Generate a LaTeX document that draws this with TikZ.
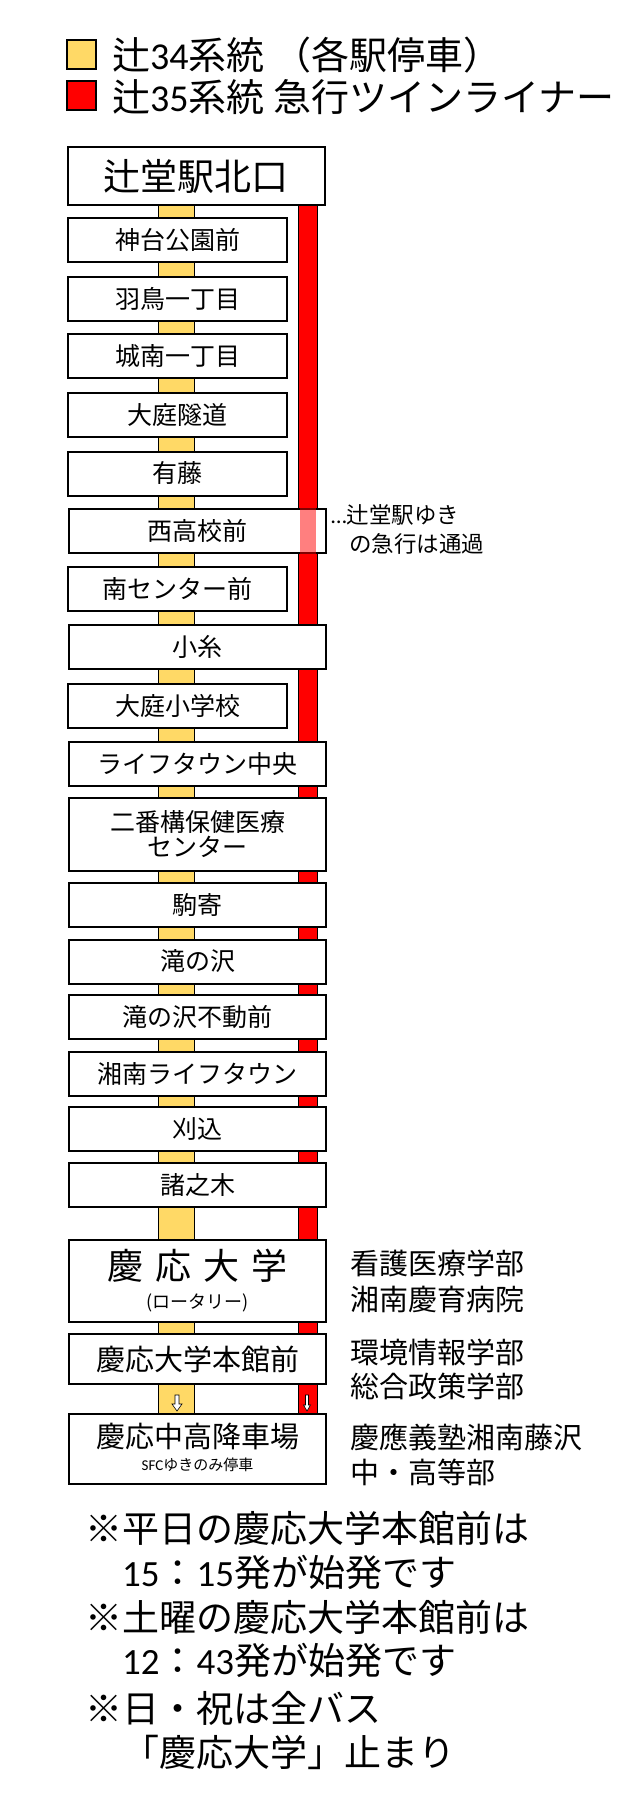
\documentclass[tikz,border=0pt]{standalone}
\usepackage{fontspec}
\setmainfont{Noto Sans CJK JP}
\newfontfamily\lat{Carlito}
\usetikzlibrary{backgrounds}
\definecolor{busyellow}{HTML}{FFD966}
\definecolor{busred}{HTML}{FF0000}
\newcommand{\fsz}[1]{\fontsize{#1}{#1}\selectfont}

\tikzset{
  stop box/.style={draw, line width=2pt, fill=white, inner sep=0pt, align=center, font=\fsz{25}},
  narrow stop/.style={stop box, minimum width=219pt, minimum height=44pt},
  wide stop/.style={stop box, minimum width=257pt, minimum height=44pt},
  tall stop/.style={wide stop, minimum height=73pt},
  legend box/.style={draw, line width=1.5pt, minimum size=29pt, inner sep=0pt},
  txt/.style={inner sep=0pt, anchor=west},
}

\begin{document}
\begin{tikzpicture}[x=1pt, y=-1pt]
  \useasboundingbox (0,0) rectangle (632,1800);

  \node[legend box, fill=busyellow] (sq34) at (81.5,54.5) {};
  \node[legend box, fill=busred] (sq35) at (81.5,95.5) {};
  \node[txt, font=\fsz{38}] (leg34) at (112,55) {辻{\lat 34}系統 （各駅停車）};
  \node[txt, font=\fsz{38}] (leg35) at (112,97) {辻{\lat 35}系統 急行ツインライナー};

  \node[wide stop, minimum height=58pt, font=\fsz{37}] (tsujido) at (196,176) {辻堂駅北口};
  \foreach[count=\i] \xx/\yy/\kind/\nm in
      {177.5/240/narrow/神台公園前, 177.5/298.5/narrow/羽鳥一丁目,
       177.5/356/narrow/城南一丁目, 177.5/415/narrow/大庭隧道,
       177.5/473.5/narrow/有藤, 197.5/531/wide/西高校前,
       177.5/588.5/narrow/南センター前, 197.5/647/wide/小糸,
       177.5/706/narrow/大庭小学校, 197.5/763.5/wide/ライフタウン中央,
       197.5/834.5/tall/{二番構保健医療\\センター}, 197.5/905/wide/駒寄,
       197.5/961.5/wide/滝の沢, 197.5/1017/wide/滝の沢不動前,
       197.5/1073.5/wide/湘南ライフタウン, 197.5/1128.5/wide/刈込,
       197.5/1185/wide/諸之木} {
    \node[\kind\space stop] (st\i) at (\xx,\yy) {\nm};
  }

  \node[wide stop, minimum height=82pt] (keio) at (197.5,1281) {};
  \node[inner sep=0pt, font=\fsz{36}] (keiomain) at (197.5,1266) {慶\hspace{12pt}応\hspace{12pt}大\hspace{12pt}学};
  \node[inner sep=0pt, font=\fsz{18}] (keiosub) at (197.5,1303) {(ロータリー)};
  \node[wide stop, minimum height=50pt, font=\fsz{29}] (honkan) at (197.5,1359) {慶応大学本館前};
  \node[wide stop, minimum height=70pt] (kochu) at (197.5,1449) {};
  \node[inner sep=0pt, font=\fsz{29}] (kochumain) at (197.5,1437) {慶応中高降車場};
  \node[inner sep=0pt, font=\fsz{15}] (kochusub) at (197.5,1465) {{\lat SFC}ゆきのみ停車};

  \begin{scope}[on background layer]
    \filldraw[fill=busyellow, line width=1pt] (158.5,0 |- tsujido.center) rectangle (194.5,0 |- kochu.center);
    \filldraw[fill=busred, line width=1pt] (298.5,0 |- tsujido.center) rectangle (317.5,0 |- kochu.center);
  \end{scope}

  \fill[busred, opacity=0.5] (300,0 |- st6.north) rectangle (316,0 |- st6.south);
  \node[txt, font=\fsz{22.5}] (pass1) at (331,515) {{\lat …}辻堂駅ゆき};
  \node[txt, font=\fsz{22.5}] (pass2) at (349,544) {の急行は通過};

  \draw[fill=white, line width=0.6pt] (175,1395) -- (179,1395) -- (179,1404)
    -- (182,1404) -- (177,1411) -- (172,1404) -- (175,1404) -- cycle;
  \draw[fill=white, line width=0.6pt] (305.5,1395) -- (308.5,1395) -- (308.5,1405)
    -- (310.5,1405) -- (307,1411) -- (303.5,1405) -- (305.5,1405) -- cycle;

  \foreach[count=\i] \yy/\lbl in
      {1263/看護医療学部, 1299/湘南慶育病院, 1352/環境情報学部,
       1386/総合政策学部, 1437/慶應義塾湘南藤沢, 1472/中・高等部}
    \node[txt, font=\fsz{29}] (fac\i) at (350,\yy) {\lbl};

  \foreach[count=\i] \xx/\yy/\lbl in
      {85/1528/※平日の慶応大学本館前は, 122/1572/{{\lat 15}：{\lat 15}発が始発です},
       85/1617/※土曜の慶応大学本館前は, 122/1660/{{\lat 12}：{\lat 43}発が始発です},
       85/1708/※日・祝は全バス, 122/1752/「慶応大学」止まり}
    \node[txt, font=\fsz{37}] (note\i) at (\xx,\yy) {\lbl};
\end{tikzpicture}
\end{document}
